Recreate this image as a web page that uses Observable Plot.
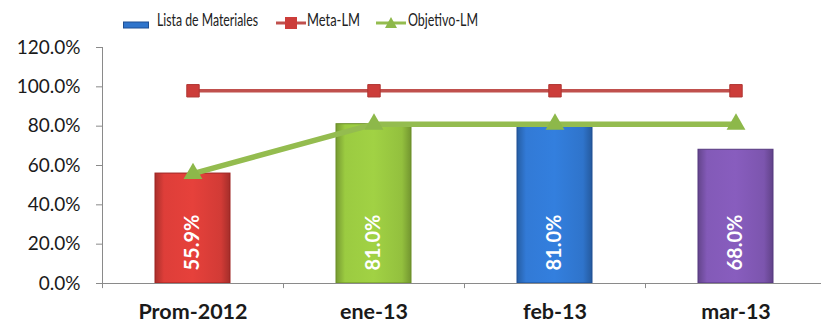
<!DOCTYPE html>
<html><head><meta charset="utf-8">
<script src="https://cdn.jsdelivr.net/npm/d3@7"></script>
<script src="https://cdn.jsdelivr.net/npm/@observablehq/plot@0.6"></script>
<style>
body{margin:0;background:#fff;font-family:Lato,"Open Sans",sans-serif;}
#wrap{position:relative;width:821px;height:324px;}
#legend{position:relative;height:36px;font-size:17px;color:#222;font-family:Lato,sans-serif;}
#legend .sw{position:absolute;top:13px;}
#legend .tx{position:absolute;top:9px;white-space:nowrap;transform-origin:0 50%;}
</style></head>
<body><div id="wrap"><div id="legend"></div><div id="chart"></div></div>
<script>
const categories = ["Prom-2012", "ene-13", "feb-13", "mar-13"];
const listaMateriales = [0.559, 0.81, 0.81, 0.68];
const metaLM = [0.98, 0.98, 0.98, 0.98];
const objetivoLM = [0.559, 0.81, 0.81, 0.81];
const barColors = ["#D23B36", "#93C03E", "#2F74CB", "#7C55AE"];
const barEdges = ["#9E2320", "#6A8E27", "#1F4F93", "#55387E"];
const yTicks = [0, 0.2, 0.4, 0.6, 0.8, 1.0, 1.2];
const seriesNames = ["Lista de Materiales", "Meta-LM", "Objetivo-LM"];

const rows = categories.map((c, i) => ({cat: c, i, lm: listaMateriales[i], meta: metaLM[i], obj: objetivoLM[i], fill: `url(#bg${i})`, stroke: barEdges[i]}));
const fmt = d3.format(".1%");

const chart = Plot.plot({
  width: 821, height: 288,
  marginTop: 11, marginBottom: 41, marginLeft: 102, marginRight: 0,
  style: {fontFamily: "Lato, 'Open Sans', sans-serif", background: "#fff", overflow: "visible"},
  x: {domain: categories, range: [102, 826], paddingInner: 0.585, paddingOuter: 0.2925, axis: null},
  y: {domain: [0, 1.2], axis: null},
  color: {type: "identity"},
  marks: [
    Plot.barY(rows, {x: "cat", y: "lm", fill: "fill", stroke: "stroke", strokeWidth: 1}),
    Plot.text(rows, {x: "cat", y: () => 0, dy: -13, text: d => fmt(d.lm), rotate: -90, textAnchor: "start", lineAnchor: "middle", fill: "white", fontWeight: "bold", fontSize: 20}),
    Plot.ruleY([0], {stroke: "#8a8a8a", strokeWidth: 1}),
    Plot.ruleX(categories, {x: d => d, y1: 0, y2: -0.026, dx: -90.5, stroke: "#8a8a8a"}),
    Plot.ruleX(categories.slice(0,1), {x: d => d, y1: 0, y2: 1.2, dx: -90.5, stroke: "#8a8a8a"}),
    Plot.axisY({ticks: yTicks, tickFormat: fmt, tickSize: 6, tickPadding: 16, fontSize: 19, stroke: "#8a8a8a", fill: "#1a1a1a", label: null}),
    Plot.axisX({tickSize: 0, tickPadding: 20, fontSize: 21.5, fontWeight: "bold", fill: "#1a1a1a", label: null}),
    Plot.line(rows, {x: "cat", y: "meta", stroke: "#C0504D", strokeWidth: 3.5}),
    Plot.dot(rows, {x: "cat", y: "meta", symbol: "square", r: 7, fill: "#CC3D3A", stroke: "#B03532", strokeWidth: 1}),
    Plot.line(rows, {x: "cat", y: "obj", stroke: "#94BC4F", strokeWidth: 5.5}),
    Plot.dot(rows, {x: "cat", y: "obj", symbol: "triangle", r: 7, fill: "#8DB84A", stroke: "none"})
  ]
});

// gradients for the 3D-looking bars
const svg = d3.select(chart);
const defs = svg.insert("defs", ":first-child");
barColors.forEach((c, i) => {
  const g = defs.append("linearGradient").attr("id", `bg${i}`).attr("x1", 0).attr("x2", 1).attr("y1", 0).attr("y2", 0);
  const base = d3.color(c);
  g.append("stop").attr("offset", "0%").attr("stop-color", base.darker(0.6));
  g.append("stop").attr("offset", "12%").attr("stop-color", base.brighter(0.15));
  g.append("stop").attr("offset", "50%").attr("stop-color", base.brighter(0.25));
  g.append("stop").attr("offset", "88%").attr("stop-color", base);
  g.append("stop").attr("offset", "100%").attr("stop-color", base.darker(0.7));
});
document.getElementById("chart").appendChild(chart);

// legend
const lg = document.getElementById("legend");
const items = [
  {name: seriesNames[0], swLeft: 123, txLeft: 157, txWidth: 101, sw: `<svg width="28" height="10"><rect x="0.5" y="2" width="25" height="6" fill="#2F74CB" stroke="#1F4F93"/></svg>`},
  {name: seriesNames[1], swLeft: 276, txLeft: 307, txWidth: 53, sw: `<svg width="30" height="14"><line x1="0" x2="30" y1="7" y2="7" stroke="#C0504D" stroke-width="3"/><rect x="9" y="1" width="12" height="12" fill="#CC3D3A"/></svg>`},
  {name: seriesNames[2], swLeft: 376, txLeft: 408, txWidth: 70, sw: `<svg width="30" height="14"><line x1="0" x2="30" y1="7" y2="7" stroke="#94BC4F" stroke-width="3"/><path d="M15,1 L21,12 L9,12 Z" fill="#8DB84A"/></svg>`}
];
items.forEach(it => {
  const s = document.createElement("span");
  s.className = "sw"; s.style.left = it.swLeft + "px"; s.innerHTML = it.sw;
  lg.appendChild(s);
  const t = document.createElement("span");
  t.className = "tx"; t.style.left = it.txLeft + "px"; t.textContent = it.name;
  lg.appendChild(t);
  const w = t.getBoundingClientRect().width;
  if (w > 0) t.style.transform = `scaleX(${it.txWidth / w})`;
});
</script></body></html>
